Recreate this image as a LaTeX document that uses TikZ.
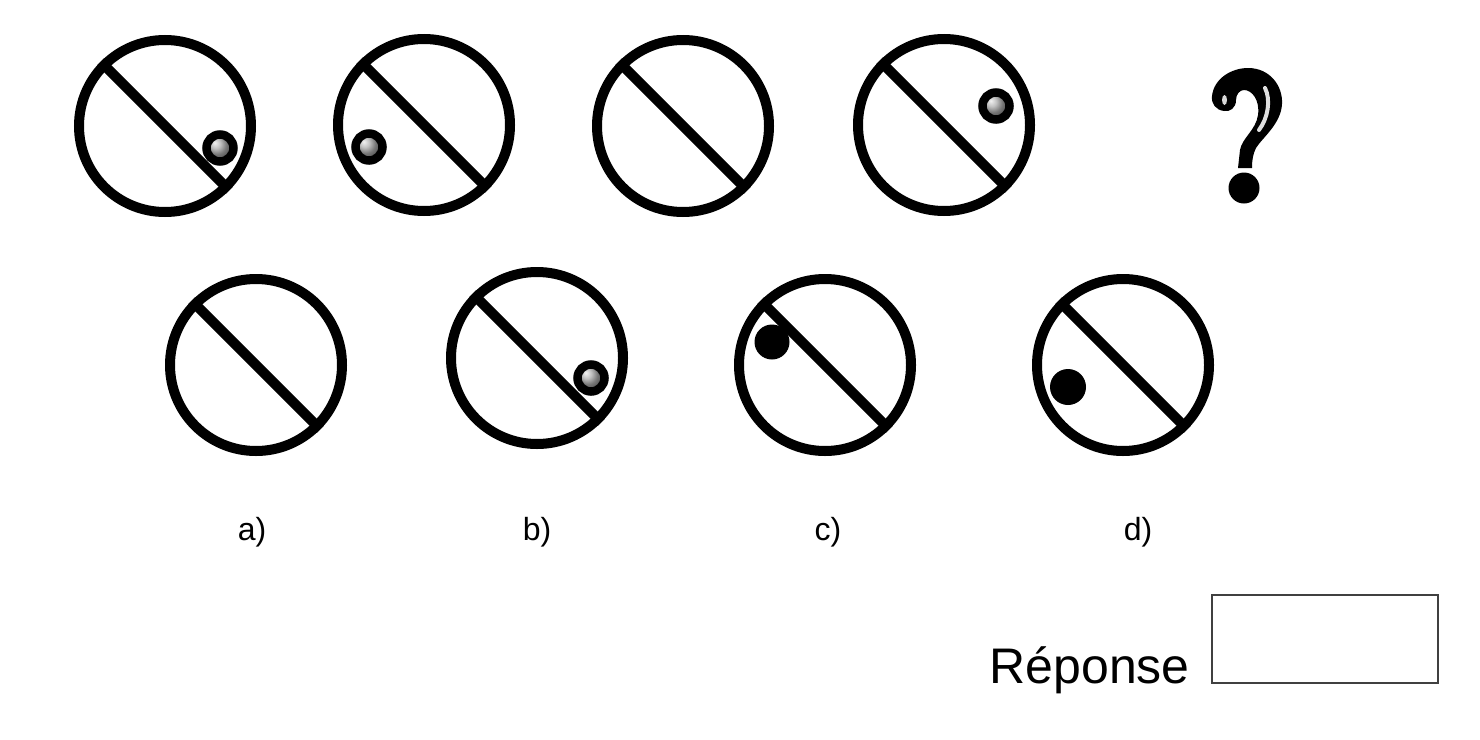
\documentclass[tikz,border=0pt]{standalone}
\usepackage{fontspec}
\setmainfont{Liberation Sans}
\begin{document}
\begin{tikzpicture}[x=1pt,y=-1pt,
  ring/.style={circle,draw=black,line width=10pt,minimum size=172pt,inner sep=0pt},
  bar/.style={line width=10pt,line cap=butt},
  greydot/.style={circle,draw=black,line width=8.5pt,minimum size=27pt,inner sep=0pt,ball color=gray!65},
  blackdot/.style={circle,fill=black,minimum size=35pt,inner sep=0pt},
  lbl/.style={font=\fontsize{32}{32}\selectfont,anchor=base,inner sep=0pt}]
\useasboundingbox (0,0) rectangle (1480,739);
% top row
\node[ring] (c1) at (165,126) {};
\draw[bar] (c1.135) -- (c1.-45);
\node[greydot] (d1) at (220,148) {};
\node[ring] (c2) at (424,125) {};
\draw[bar] (c2.135) -- (c2.-45);
\node[greydot] (d2) at (369,147) {};
\node[ring] (c3) at (683,126) {};
\draw[bar] (c3.135) -- (c3.-45);
\node[ring] (c4) at (944,125) {};
\draw[bar] (c4.135) -- (c4.-45);
\node[greydot] (d4) at (996,106) {};
% question mark
\fill[black] (1238,168) -- (1240,150) .. controls (1242,138) and (1256,130) .. (1258,115)
  .. controls (1260,100) and (1252,90) .. (1244,90) .. controls (1240,90) and (1236,94) .. (1236,100)
  .. controls (1236,108) and (1230,112) .. (1224,111) .. controls (1216,110) and (1211,104) .. (1212,96)
  .. controls (1214,78) and (1232,68) .. (1248,68) .. controls (1270,68) and (1283,86) .. (1282,104)
  .. controls (1281,124) and (1262,138) .. (1256,148) .. controls (1253,154) and (1252,160) .. (1252,168) -- cycle;
\node[circle,fill=black,minimum size=31pt,inner sep=0pt] (qd) at (1244,188) {};
\fill[gray!30] (1224.5,100) ellipse (2.5pt and 5pt);
\draw[gray!25,line width=4pt,line cap=round] (1265,88) .. controls (1271,100) and (1268,118) .. (1259,130);
% bottom row
\node[ring] (ca) at (256,365) {};
\draw[bar] (ca.135) -- (ca.-45);
\node[ring] (cb) at (537,358) {};
\draw[bar] (cb.135) -- (cb.-45);
\node[greydot] (db) at (591,378) {};
\node[ring] (cc) at (825,365) {};
\draw[bar] (cc.135) -- (cc.-45);
\node[blackdot] (dc) at (772,342) {};
\node[ring] (cd) at (1123,365) {};
\draw[bar] (cd.135) -- (cd.-45);
\node[blackdot,minimum size=36pt] (dd) at (1068,387) {};
% labels
\node[lbl] (la) at (252,540) {a)};
\node[lbl] (lb) at (537,540) {b)};
\node[lbl] (lc) at (828,540) {c)};
\node[lbl] (ld) at (1138,540) {d)};
% answer
\node[font=\fontsize{50}{50}\selectfont,anchor=base east,inner sep=0pt] (rep) at (1190,683) {Réponse};
\node[draw=black!75,line width=1.5pt,minimum width=226pt,minimum height=88pt,inner sep=0pt,anchor=north west] (box) at (1211,594) {};
\end{tikzpicture}
\end{document}
